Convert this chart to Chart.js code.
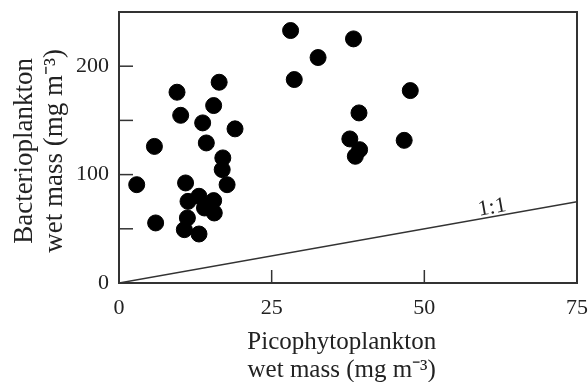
<!DOCTYPE html>
<html>
<head>
  <script src="https://cdn.jsdelivr.net/npm/chart.js@4"></script>
  <style>
    html, body { margin: 0; padding: 0; background: #fff; overflow: hidden; }
    #wrap { width: 588px; height: 382px; position: relative; }
  </style>
</head>
<body>
  <div id="wrap"><canvas id="c"></canvas></div>
  <script>
    // picophytoplankton (x) vs bacterioplankton (y), mg m-3
    const picoX = [2.9, 5.8, 6.0, 9.5, 10.1, 10.9, 11.3, 11.2, 10.7, 13.1, 13.1, 13.7, 14.3, 14.0,
                   15.5, 15.6, 15.5, 16.4, 17.0, 16.9, 17.7, 19.0, 28.1, 28.7, 32.6,
                   38.4, 47.7, 39.3, 37.8, 39.4, 38.7, 46.7];
    const bactY = [90.7, 126, 55.4, 176, 154.7, 92.3, 75.3, 60, 49.2, 80, 45.2, 147.7, 129.2, 69.2,
                   76, 64.6, 163.7, 185.2, 115.4, 104.6, 90.7, 142.2, 232.9, 187.7, 208,
                   225.2, 177.5, 156.9, 132.9, 123, 116.9, 131.6];
    const oneToOne = [0, 75];
    const labelPos = { x: 61.1, y: 69.5, text: '1:1' };

    const serif = '"Liberation Serif", "Times New Roman", serif';
    const ink = '#222';

    const framePlugin = {
      id: 'frame',
      afterDatasetsDraw(chart) {
        const {ctx, chartArea: a, scales} = chart;
        ctx.save();
        ctx.strokeStyle = '#333';
        ctx.lineWidth = 2;
        ctx.strokeRect(a.left, a.top, a.right - a.left, a.bottom - a.top);
        // inward ticks
        ctx.lineWidth = 1.5;
        scales.x.ticks.forEach(t => {
          const px = scales.x.getPixelForValue(t.value);
          ctx.beginPath(); ctx.moveTo(px, a.bottom); ctx.lineTo(px, a.bottom - 13); ctx.stroke();
        });
        scales.y.ticks.forEach(t => {
          const py = scales.y.getPixelForValue(t.value);
          ctx.beginPath(); ctx.moveTo(a.left, py); ctx.lineTo(a.left + 14, py); ctx.stroke();
        });
        // 1:1 label along the line
        const x0 = scales.x.getPixelForValue(oneToOne[0]), y0 = scales.y.getPixelForValue(oneToOne[0]);
        const x1 = scales.x.getPixelForValue(oneToOne[1]), y1 = scales.y.getPixelForValue(oneToOne[1]);
        const ang = Math.atan2(y1 - y0, x1 - x0);
        ctx.translate(scales.x.getPixelForValue(labelPos.x), scales.y.getPixelForValue(labelPos.y));
        ctx.rotate(ang);
        ctx.fillStyle = ink;
        ctx.font = '22px ' + serif;
        ctx.textAlign = 'center';
        ctx.textBaseline = 'middle';
        ctx.fillText(labelPos.text, 0, 0);
        ctx.restore();
      }
    };

    new Chart(document.getElementById('c'), {
      type: 'scatter',
      data: {
        datasets: [
          {
            data: picoX.map((x, i) => ({x: x, y: bactY[i]})),
            backgroundColor: '#000',
            borderColor: '#000',
            pointRadius: 8,
            pointHoverRadius: 8
          },
          {
            type: 'line',
            data: oneToOne.map(v => ({x: v, y: v})),
            borderColor: '#333',
            borderWidth: 1.5,
            pointRadius: 0,
            fill: false
          }
        ]
      },
      options: {
        responsive: true,
        maintainAspectRatio: false,
        animation: false,
        events: [],
        layout: { padding: { top: 12, right: 11, left: 0, bottom: 0 } },
        plugins: { legend: { display: false }, tooltip: { enabled: false } },
        scales: {
          x: {
            type: 'linear', min: 0, max: 75,
            afterFit(s) { s.height = 99; s.paddingLeft = 0; s.paddingRight = 0; },
            border: { display: false },
            grid: { display: false, drawTicks: false },
            ticks: { stepSize: 25, color: ink, padding: 12, font: { family: serif, size: 22 } },
            title: {
              display: true, text: ['Picophytoplankton  ', 'wet mass (mg m\u207B\u00B3)  '],
              color: ink, font: { family: serif, size: 25, lineHeight: 1.12 },
              padding: { top: 0, bottom: -2 }
            }
          },
          y: {
            type: 'linear', min: 0, max: 250,
            afterFit(s) { s.width = 119; s.paddingTop = 0; s.paddingBottom = 0; },
            border: { display: false },
            grid: { display: false, drawTicks: false },
            ticks: {
              stepSize: 50, color: ink, padding: 10, font: { family: serif, size: 22 },
              callback: v => (v % 100 === 0 ? v : '')
            },
            title: {
              display: true, text: ['Bacterioplankton ', 'wet mass (mg m\u207B\u00B3) '],
              color: ink, font: { family: serif, size: 27, lineHeight: 1.11 },
              padding: { top: 10, bottom: 0 }
            }
          }
        }
      },
      plugins: [framePlugin]
    });
  </script>
</body>
</html>
